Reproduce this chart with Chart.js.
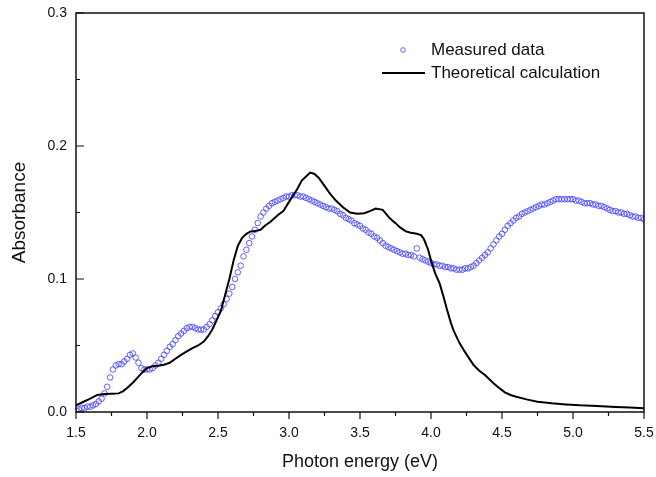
<!DOCTYPE html>
<html>
<head>
<meta charset="utf-8">
<script src="https://cdn.jsdelivr.net/npm/chart.js@4.4.1/dist/chart.umd.min.js"></script>
<style>
  body { margin: 0; background: #fff; }
  #wrap { width: 656px; height: 477px; }
</style>
</head>
<body>
<div id="wrap"><canvas id="chart" width="656" height="477"></canvas></div>
<script>
// Measured absorbance (open circles)
const measuredEnergy = [
  1.50,1.52,1.54,1.56,1.58,1.60,1.62,1.64,1.66,1.68,
  1.70,1.72,1.74,1.76,1.78,1.80,1.82,1.84,1.86,1.88,
  1.90,1.92,1.94,1.96,1.98,2.00,2.02,2.04,2.06,2.08,
  2.10,2.12,2.14,2.16,2.18,2.20,2.22,2.24,2.26,2.28,
  2.30,2.32,2.34,2.36,2.38,2.40,2.42,2.44,2.46,2.48,
  2.50,2.52,2.54,2.56,2.58,2.60,2.62,2.64,2.66,2.68,
  2.70,2.72,2.74,2.76,2.78,2.80,2.82,2.84,2.86,2.88,
  2.90,2.92,2.94,2.96,2.98,3.00,3.02,3.04,3.06,3.08,
  3.10,3.12,3.14,3.16,3.18,3.20,3.22,3.24,3.26,3.28,
  3.30,3.32,3.34,3.36,3.38,3.40,3.42,3.44,3.46,3.48,
  3.50,3.52,3.54,3.56,3.58,3.60,3.62,3.64,3.66,3.68,
  3.70,3.72,3.74,3.76,3.78,3.80,3.82,3.84,3.86,3.88,
  3.90,3.92,3.94,3.96,3.98,4.00,4.02,4.04,4.06,4.08,
  4.10,4.12,4.14,4.16,4.18,4.20,4.22,4.24,4.26,4.28,
  4.30,4.32,4.34,4.36,4.38,4.40,4.42,4.44,4.46,4.48,
  4.50,4.52,4.54,4.56,4.58,4.60,4.62,4.64,4.66,4.68,
  4.70,4.72,4.74,4.76,4.78,4.80,4.82,4.84,4.86,4.88,
  4.90,4.92,4.94,4.96,4.98,5.00,5.02,5.04,5.06,5.08,
  5.10,5.12,5.14,5.16,5.18,5.20,5.22,5.24,5.26,5.28,
  5.30,5.32,5.34,5.36,5.38,5.40,5.42,5.44,5.46,5.48,
  5.50
];
const measuredAbs = [
  0.001,0.002,0.003,0.003,0.004,0.004,0.005,0.006,0.008,0.010,
  0.014,0.019,0.026,0.032,0.035,0.036,0.036,0.038,0.040,0.043,
  0.044,0.041,0.037,0.033,0.032,0.032,0.032,0.033,0.035,0.037,
  0.040,0.043,0.046,0.049,0.051,0.054,0.057,0.059,0.061,0.063,
  0.064,0.064,0.063,0.062,0.062,0.062,0.064,0.066,0.069,0.072,
  0.075,0.078,0.081,0.085,0.089,0.094,0.100,0.105,0.110,0.117,
  0.122,0.127,0.132,0.137,0.142,0.147,0.150,0.153,0.155,0.157,
  0.158,0.159,0.160,0.161,0.162,0.162,0.163,0.163,0.163,0.162,
  0.162,0.161,0.160,0.159,0.158,0.157,0.156,0.155,0.154,0.153,
  0.153,0.152,0.151,0.149,0.148,0.146,0.145,0.144,0.142,0.141,
  0.140,0.138,0.137,0.135,0.134,0.132,0.131,0.129,0.127,0.125,
  0.124,0.123,0.122,0.121,0.120,0.119,0.119,0.118,0.118,0.117,
  0.123,0.116,0.115,0.114,0.113,0.112,0.111,0.111,0.110,0.110,
  0.109,0.109,0.108,0.108,0.107,0.107,0.107,0.108,0.108,0.109,
  0.110,0.112,0.114,0.116,0.118,0.120,0.123,0.126,0.129,0.132,
  0.134,0.137,0.140,0.142,0.144,0.146,0.147,0.149,0.150,0.151,
  0.152,0.153,0.154,0.155,0.156,0.156,0.157,0.158,0.159,0.160,
  0.160,0.160,0.160,0.160,0.160,0.160,0.159,0.159,0.158,0.157,
  0.157,0.157,0.156,0.156,0.155,0.155,0.154,0.153,0.152,0.151,
  0.151,0.150,0.150,0.149,0.149,0.148,0.147,0.147,0.146,0.146,
  0.145
];

// Theoretical calculation (solid line)
const theoryEnergy = [
  1.50,1.55,1.60,1.65,1.70,1.75,1.80,1.83,1.86,1.90,
  1.93,1.96,2.00,2.04,2.08,2.12,2.16,2.20,2.24,2.28,
  2.32,2.36,2.40,2.43,2.46,2.49,2.52,2.55,2.58,2.61,
  2.64,2.67,2.70,2.73,2.76,2.80,2.83,2.87,2.92,2.96,
  3.00,3.03,3.06,3.09,3.12,3.15,3.18,3.21,3.25,3.29,
  3.33,3.38,3.43,3.48,3.53,3.57,3.61,3.66,3.71,3.75,
  3.78,3.82,3.85,3.90,3.93,3.95,3.98,4.00,4.03,4.06,
  4.09,4.11,4.14,4.16,4.20,4.24,4.30,4.34,4.38,4.44,
  4.48,4.52,4.56,4.60,4.68,4.75,4.85,4.95,5.05,5.17,
  5.30,5.40,5.50
];
const theoryAbs = [
  0.0050,0.0075,0.0100,0.0128,0.0135,0.0138,0.0140,0.0155,0.0180,0.0220,
  0.0255,0.0290,0.0330,0.0345,0.0348,0.0355,0.0370,0.0400,0.0430,0.0455,
  0.0480,0.0500,0.0530,0.0570,0.0620,0.0690,0.0760,0.0880,0.1000,0.1140,
  0.1250,0.1310,0.1340,0.1358,0.1360,0.1370,0.1400,0.1430,0.1480,0.1510,
  0.1580,0.1630,0.1680,0.1740,0.1770,0.1800,0.1790,0.1760,0.1700,0.1640,
  0.1590,0.1540,0.1500,0.1490,0.1495,0.1510,0.1530,0.1520,0.1456,0.1420,
  0.1390,0.1360,0.1350,0.1340,0.1330,0.1300,0.1220,0.1140,0.1040,0.0970,
  0.0860,0.0780,0.0670,0.0610,0.0520,0.0450,0.0353,0.0310,0.0278,0.0216,
  0.0180,0.0148,0.0128,0.0115,0.0093,0.0077,0.0065,0.0057,0.0050,0.0045,
  0.0038,0.0033,0.0028
];

// Axis ticks
const xMajorTicks = [1.5, 2.0, 2.5, 3.0, 3.5, 4.0, 4.5, 5.0, 5.5];
const xMinorTicks = [1.75, 2.25, 2.75, 3.25, 3.75, 4.25, 4.75, 5.25];
const yMajorTicks = [0.0, 0.1, 0.2, 0.3];
const yMinorTicks = [0.05, 0.15, 0.25];

const legendLabels = ['Measured data', 'Theoretical calculation'];

const FONT = "'Liberation Sans', Arial, sans-serif";
const INK = '#111';
const BLUE = 'rgba(70, 70, 255, 0.85)';

const toPoints = (xs, ys) => xs.map((x, i) => ({ x: x, y: ys[i] }));

// Box around the plot, inward y ticks, outward x ticks and the legend
const framePlugin = {
  id: 'frame',
  afterDatasetsDraw(chart) {
    const { ctx, chartArea: a, scales } = chart;
    ctx.save();
    ctx.strokeStyle = INK;
    ctx.lineWidth = 1.5;
    ctx.strokeRect(a.left, a.top, a.right - a.left, a.bottom - a.top);

    ctx.lineWidth = 1.2;
    ctx.beginPath();
    yMajorTicks.forEach(v => {
      const y = scales.y.getPixelForValue(v);
      ctx.moveTo(a.left, y); ctx.lineTo(a.left + 8, y);
    });
    yMinorTicks.forEach(v => {
      const y = scales.y.getPixelForValue(v);
      ctx.moveTo(a.left, y); ctx.lineTo(a.left + 4, y);
    });
    xMajorTicks.forEach(v => {
      const x = scales.x.getPixelForValue(v);
      ctx.moveTo(x, a.bottom); ctx.lineTo(x, a.bottom + 7);
    });
    xMinorTicks.forEach(v => {
      const x = scales.x.getPixelForValue(v);
      ctx.moveTo(x, a.bottom); ctx.lineTo(x, a.bottom + 4);
    });
    ctx.stroke();

    // legend
    ctx.font = '17px ' + FONT;
    ctx.fillStyle = INK;
    ctx.textBaseline = 'middle';
    ctx.textAlign = 'left';
    ctx.strokeStyle = BLUE;
    ctx.lineWidth = 1;
    ctx.beginPath();
    ctx.arc(403, 50, 2.3, 0, Math.PI * 2);
    ctx.stroke();
    ctx.fillText(legendLabels[0], 431, 50);
    ctx.strokeStyle = '#000';
    ctx.lineWidth = 2;
    ctx.beginPath();
    ctx.moveTo(382, 73); ctx.lineTo(425, 73);
    ctx.stroke();
    ctx.fillText(legendLabels[1], 431, 73);
    ctx.restore();
  }
};

new Chart(document.getElementById('chart'), {
  type: 'scatter',
  data: {
    datasets: [
      {
        label: legendLabels[1],
        data: toPoints(theoryEnergy, theoryAbs),
        showLine: true,
        borderColor: '#000',
        borderWidth: 2,
        pointRadius: 0,
        tension: 0,
        order: 0
      },
      {
        label: legendLabels[0],
        data: toPoints(measuredEnergy, measuredAbs),
        showLine: false,
        pointStyle: 'circle',
        pointRadius: 2.8,
        borderColor: BLUE,
        borderWidth: 1,
        backgroundColor: 'rgba(0,0,0,0)',
        order: 1
      }
    ]
  },
  options: {
    responsive: false,
    animation: false,
    events: [],
    layout: { padding: { top: 13, right: 12, left: 0, bottom: 0 } },
    plugins: {
      legend: { display: false },
      tooltip: { enabled: false }
    },
    scales: {
      x: {
        type: 'linear',
        min: 1.5,
        max: 5.5,
        afterBuildTicks: s => { s.ticks = xMajorTicks.map(v => ({ value: v })); },
        afterFit: s => { s.height = 65; s.paddingLeft = 0; s.paddingRight = 0; },
        grid: { display: false, drawTicks: false },
        border: { display: false },
        ticks: {
          padding: 13,
          color: INK,
          font: { family: FONT, size: 14 },
          maxRotation: 0,
          callback: v => v.toFixed(1)
        },
        title: {
          display: true,
          text: 'Photon energy (eV)',
          color: INK,
          font: { family: FONT, size: 18 },
          padding: { top: 0, bottom: 4 }
        }
      },
      y: {
        type: 'linear',
        min: 0,
        max: 0.3,
        afterBuildTicks: s => { s.ticks = yMajorTicks.map(v => ({ value: v })); },
        afterFit: s => { s.width = 76; s.paddingTop = 0; s.paddingBottom = 0; },
        grid: { display: false, drawTicks: false },
        border: { display: false },
        ticks: {
          padding: 9,
          color: INK,
          font: { family: FONT, size: 14 },
          callback: v => v.toFixed(1)
        },
        title: {
          display: true,
          text: 'Absorbance',
          color: INK,
          font: { family: FONT, size: 19 },
          padding: { top: 8, bottom: 0 }
        }
      }
    }
  },
  plugins: [framePlugin]
});
</script>
</body>
</html>
